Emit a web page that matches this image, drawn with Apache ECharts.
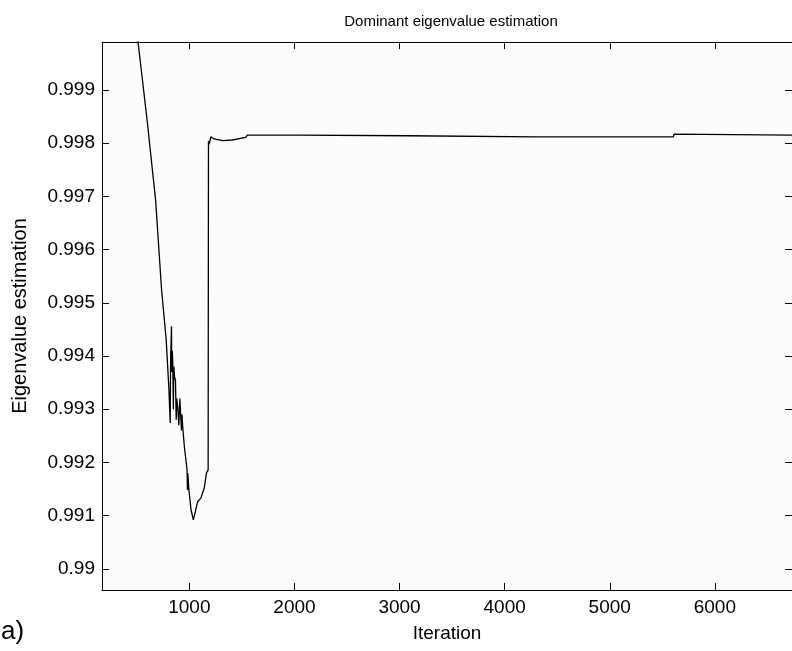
<!DOCTYPE html>
<html>
<head>
<meta charset="utf-8">
<script src="https://cdn.jsdelivr.net/npm/echarts@6/dist/echarts.min.js"></script>
<style>
html,body{margin:0;padding:0;background:#fff;}
#chart{width:792px;height:651px;}
</style>
</head>
<body>
<div id="chart"></div>
<script>
const titleText = 'Dominant eigenvalue estimation';
const xName = 'Iteration';
const yName = 'Eigenvalue estimation';
const panelLabel = 'a)';
const xTicks = [1000, 2000, 3000, 4000, 5000, 6000];
const yTicks = [0.990, 0.991, 0.992, 0.993, 0.994, 0.995, 0.996, 0.997, 0.998, 0.999];
const iterations = [450, 512, 600, 679, 736, 780, 805, 818, 822, 826, 830, 833, 837, 842, 848, 852, 860, 868, 875, 880, 889, 900, 910, 921, 925, 930, 937, 953, 978, 982, 985, 987, 995, 1016, 1038, 1057, 1078, 1110, 1126, 1142, 1158, 1163, 1179, 1182, 1189, 1205, 1236, 1315, 1410, 1536, 1551, 2039, 3078, 4305, 5605, 5612, 6734];
const values = [1.0010, 0.99990, 0.99840, 0.99693, 0.99524, 0.99430, 0.99340, 0.99274, 0.99400, 0.99420, 0.99456, 0.99370, 0.99410, 0.99392, 0.99300, 0.99380, 0.99360, 0.99355, 0.99280, 0.99320, 0.99305, 0.99270, 0.99320, 0.99321, 0.99260, 0.99290, 0.99267, 0.99229, 0.99186, 0.99148, 0.99180, 0.99176, 0.99150, 0.99111, 0.99092, 0.99107, 0.99126, 0.99133, 0.99143, 0.99152, 0.99154, 0.99180, 0.99186, 0.99804, 0.99798, 0.99812, 0.99808, 0.99805, 0.99806, 0.99811, 0.99815, 0.99815, 0.99814, 0.99812, 0.99812, 0.99817, 0.99815];

const xMin = 169, xMax = 6734;
const yMin = 0.989602, yMax = 0.999902;
const font = 'Liberation Sans, Arial, sans-serif';

const chart = echarts.init(document.getElementById('chart'), null, {renderer: 'canvas'});
const tickStyle = {show: true, inside: true, length: 7, lineStyle: {color: '#000', width: 1}};
const lineStyle = {show: true, onZero: false, lineStyle: {color: '#000', width: 1}};

chart.setOption({
  backgroundColor: '#ffffff',
  animation: false,
  title: {
    text: titleText, left: 446, top: 9, textAlign: 'center',
    textStyle: {fontFamily: font, fontSize: 15, fontWeight: 'normal', color: '#000'}
  },
  graphic: [{
    type: 'text', left: 1, top: 619,
    style: {text: panelLabel, fontFamily: font, fontSize: 26, fill: '#000'}
  }],
  grid: {left: 102, top: 42, width: 695, height: 548, show: true, backgroundColor: '#fcfcfc', borderWidth: 0},
  xAxis: [{
    type: 'value', min: xMin, max: xMax, position: 'bottom',
    name: xName, nameLocation: 'middle', nameGap: 34,
    nameTextStyle: {fontFamily: font, fontSize: 19, color: '#000'},
    axisLine: lineStyle,
    axisTick: Object.assign({customValues: xTicks}, tickStyle),
    axisLabel: {customValues: xTicks, margin: 8, fontFamily: font, fontSize: 19, color: '#000',
      formatter: v => String(Math.round(v))},
    splitLine: {show: false}
  }, {
    type: 'value', min: xMin, max: xMax, position: 'top',
    axisLine: lineStyle,
    axisTick: Object.assign({customValues: xTicks}, tickStyle),
    axisLabel: {show: false},
    splitLine: {show: false}
  }],
  yAxis: [{
    type: 'value', min: yMin, max: yMax, position: 'left',
    name: yName, nameLocation: 'middle', nameGap: 72, nameRotate: 90,
    nameTextStyle: {fontFamily: font, fontSize: 20, color: '#000'},
    axisLine: lineStyle,
    axisTick: Object.assign({customValues: yTicks}, tickStyle),
    axisLabel: {customValues: yTicks, margin: 7, fontFamily: font, fontSize: 19, color: '#000',
      formatter: v => String(+v.toFixed(3))},
    splitLine: {show: false}
  }, {
    type: 'value', min: yMin, max: yMax, position: 'right',
    axisLine: lineStyle,
    axisTick: Object.assign({customValues: yTicks}, tickStyle),
    axisLabel: {show: false},
    splitLine: {show: false}
  }],
  series: [{
    type: 'line',
    data: iterations.map((x, i) => [x, values[i]]),
    showSymbol: false,
    clip: true,
    lineStyle: {color: '#000', width: 1.3},
    xAxisIndex: 0, yAxisIndex: 0
  }]
});
</script>
</body>
</html>
